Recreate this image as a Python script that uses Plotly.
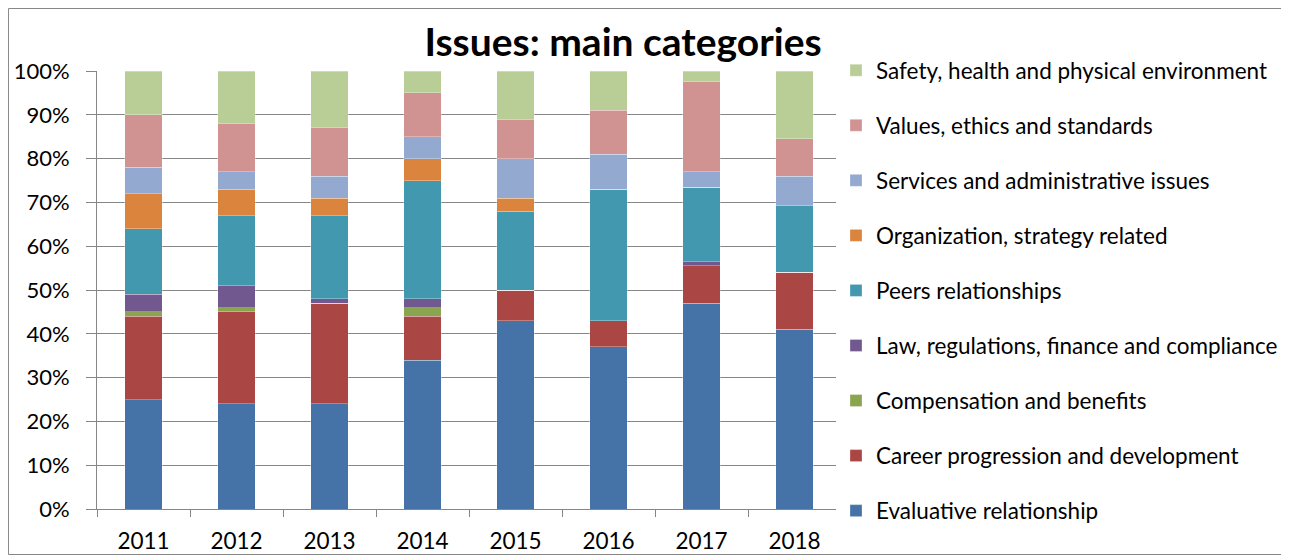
import plotly.graph_objects as go

years = ['2011', '2012', '2013', '2014', '2015', '2016', '2017', '2018']

# shares in % per year, bottom to top of the stack
evaluative = [25, 24, 24, 34, 43, 37, 47, 41]
career = [19, 21, 23, 10, 7, 6, 8.5, 13]
compensation = [1, 1, 0, 2, 0, 0, 0, 0]
law = [4, 5, 1, 2, 0, 0, 1, 0]
peers = [15, 16, 19, 27, 18, 30, 17, 15.2]
organization = [8, 6, 4, 5, 3, 0, 0, 0]
services = [6, 4, 5, 5, 9, 8, 3.5, 6.8]
values = [12, 11, 11, 10, 9, 10, 20.5, 8.5]
safety = [10, 12, 13, 5, 11, 9, 2.5, 15.5]

series = [
    ('Evaluative relationship', evaluative, '#4572A7'),
    ('Career progression and development', career, '#AA4643'),
    ('Compensation and benefits', compensation, '#89A54E'),
    ('Law, regulations, finance and compliance', law, '#71588F'),
    ('Peers relationships', peers, '#4198AF'),
    ('Organization, strategy related', organization, '#DB843D'),
    ('Services and administrative issues', services, '#93A9CF'),
    ('Values, ethics and standards', values, '#D19392'),
    ('Safety, health and physical environment', safety, '#B9CD96'),
]

font = 'Lato, Calibri, Arial, sans-serif'

fig = go.Figure()
for i, (name, vals, color) in enumerate(series):
    fig.add_trace(go.Bar(
        x=years, y=vals, name=name, legendgroup=name,
        legendrank=len(series) - i,  # top of stack first in legend
        marker=dict(color=color, line=dict(color='rgba(255,255,255,0.5)', width=0.6)),
    ))

# page body has an 8px margin, so the figure is 8px smaller than the window
# plot area in figure pixels: x 89..833, y 63..501
fig.update_layout(
    width=1281, height=547,
    margin=dict(l=89, r=448, t=63, b=46, autoexpand=False),
    barmode='stack', barnorm='percent', bargap=0.6,
    plot_bgcolor='white', paper_bgcolor='white',
    font=dict(family=font, size=22, color='black'),
    title=dict(text='<b>Issues: main categories</b>', x=0.4801, y=0.9378,
               xref='container', yref='container', xanchor='center', yanchor='middle',
               font=dict(family=font, size=39, color='black')),
    legend=dict(x=0.9933, y=1.050, xanchor='left', yanchor='top',
                traceorder='grouped', tracegroupgap=22.8, maxheight=547,
                font=dict(family=font, size=22.5), itemwidth=30),
    xaxis=dict(type='category', showline=True, linecolor='#868686', linewidth=1,
               ticks='outside', tickson='boundaries', ticklen=7, tickcolor='#868686',
               showgrid=False, tickfont=dict(size=22.5), ticklabelstandoff=12),
    yaxis=dict(range=[0, 100], dtick=10, ticksuffix='%', showgrid=True,
               gridcolor='#868686', gridwidth=1, showline=True, linecolor='#868686',
               ticks='outside', ticklen=10, tickcolor='#868686', zeroline=False,
               tickfont=dict(size=22), ticklabelstandoff=12),
    shapes=[dict(type='rect', xref='paper', yref='paper',
                 x0=-0.119, x1=1.6015, y0=-0.1039, y1=1.1427,
                 line=dict(color='#868686', width=1), fillcolor='rgba(0,0,0,0)')],
)

fig.write_html('out.html')
